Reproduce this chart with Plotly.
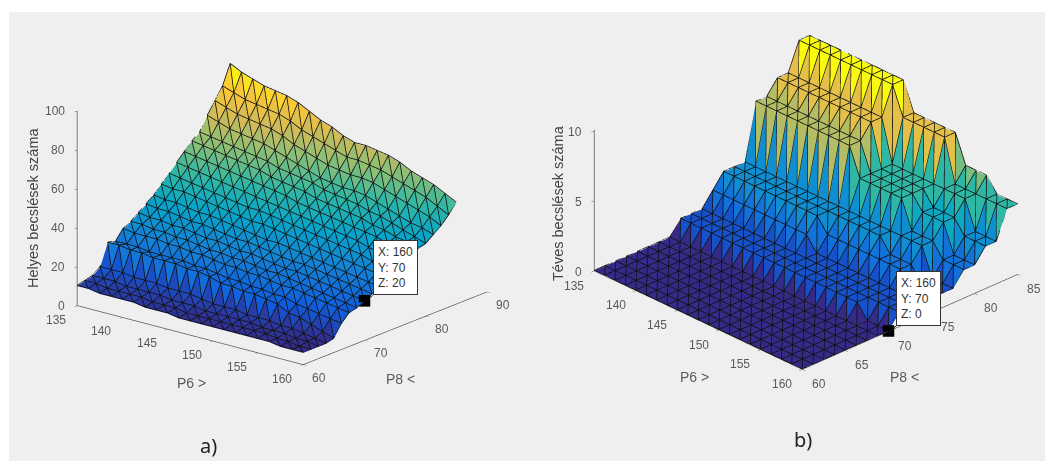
import plotly.graph_objects as go
import numpy as np

P6 = [135, 136.25, 137.5, 138.75, 140, 141.25, 142.5, 143.75, 145, 146.25, 147.5,
      148.75, 150, 151.25, 152.5, 153.75, 155, 156.25, 157.5, 158.75, 160]
P8 = [60, 61.25, 62.5, 63.75, 65, 66.25, 67.5, 68.75, 70, 71.25, 72.5,
      73.75, 75, 76.25, 77.5, 78.75, 80, 81.25, 82.5, 83.75, 85]

HELYES = [
 [10,10,9,9,9,9,8,8,8,7,7,7,7,7,7,7,7,7,6,6,6],
 [11,11,10,10,10,10,9,9,9,8,8,8,8,8,8,8,8,7,7,6,6],
 [12,12,12,11,11,11,11,10,10,10,9,9,9,9,9,8,8,8,7,7,6],
 [15,15,15,14,14,14,13,13,13,12,11,11,11,10,10,10,9,9,8,7,6],
 [26,26,25,25,24,24,24,23,23,22,20,20,19,19,18,17,14,13,11,9,7],
 [25,25,25,24,24,24,24,23,23,22,21,21,20,20,19,19,17,16,15,14,13],
 [30,29,29,29,28,28,27,27,26,25,25,24,24,23,22,22,21,20,19,18,17],
 [32,32,31,31,30,30,29,28,28,27,27,26,25,25,24,23,22,21,20,19,18],
 [35,34,34,33,33,32,31,31,30,29,29,28,27,26,26,25,24,23,22,21,20],
 [38,37,37,36,35,35,34,33,32,32,31,30,29,28,28,27,26,25,24,23,22],
 [41,40,40,39,38,38,37,36,35,34,33,33,32,31,30,29,28,27,26,25,24],
 [45,44,44,43,42,41,40,39,38,38,37,36,35,34,33,32,31,30,29,28,27],
 [49,48,47,46,45,44,43,42,42,41,40,39,38,37,36,35,34,33,31,30,29],
 [53,52,51,50,49,48,47,46,45,44,43,42,41,40,39,38,37,35,34,33,31],
 [57,56,55,54,53,52,51,50,49,48,46,45,44,43,42,41,40,39,37,36,34],
 [61,60,59,58,57,56,55,53,52,51,50,48,47,46,45,44,42,41,39,38,36],
 [64,63,62,61,60,59,58,56,55,54,53,51,50,49,48,46,45,43,41,39,37],
 [71,69,67,66,65,64,62,60,58,56,54,53,52,52,51,49,47,45,43,42,40],
 [77,75,73,72,71,70,68,65,63,61,59,58,57,57,56,54,52,50,48,46,43],
 [83,81,79,78,77,76,74,71,69,67,65,63,63,62,61,59,57,55,53,50,47],
 [93,90,88,86,85,84,82,79,76,74,71,69,69,68,67,65,62,60,58,55,52],
]

TEVES = [
 [0]*21, [0]*21, [0]*21, [0]*21, [0]*21, [0]*21, [0]*21, [0]*21,
 [1,1,1,1,1,1,1,1,1,1,1,1,1,1,1,1,1,1,0,0,0],
 [1,1,1,1,1,1,1,1,1,1,1,1,1,1,1,1,1,1,1,1,1],
 [1,1,1,1,1,1,1,1,1,1,1,1,1,1,1,1,1,1,1,1,1],
 [2,2,2,2,2,2,2,2,2,2,1,1,1,1,1,1,1,1,1,1,1],
 [3,3,3,3,3,3,3,3,3,3,2,2,2,2,2,2,2,2,1,1,1],
 [3,3,3,3,3,3,3,3,3,3,3,3,3,3,3,2,2,2,1,1,1],
 [3,3,3,3,3,3,3,3,3,3,3,3,3,3,3,3,3,3,1,1,1],
 [7,7,7,7,7,7,7,7,7,7,5,5,5,5,5,3,3,3,2,2,2],
 [7,7,7,7,7,7,7,7,7,7,5,5,5,5,5,4,4,4,2,2,2],
 [8,8,8,8,8,8,8,8,8,8,5,5,5,5,5,4,4,4,3,3,3],
 [8,8,8,8,8,8,8,8,8,8,5,5,5,5,5,5,5,5,3,3,3],
 [10,10,10,10,10,10,10,10,10,10,8,8,8,8,8,5,5,5,5,5,5],
 [10,10,10,10,10,10,10,10,10,10,8,8,8,8,8,6,6,6,5,5,5],
]

PARULA = [[0, "#352A87"], [.125, "#0F5CDD"], [.25, "#1481D6"], [.375, "#06A4CA"], [.5, "#2EB7A4"],
          [.625, "#87BF77"], [.75, "#D1BB59"], [.875, "#FEC832"], [1, "#F9FB0E"]]
GREY = "#5a5a5a"
FONT = "Liberation Sans"
X_TICKS = [135, 140, 145, 150, 155, 160]
YA_TICKS = [60, 70, 80, 90]
YB_TICKS = [60, 65, 70, 75, 80, 85]
ZA_TICKS = [0, 20, 40, 60, 80, 100]
ZB_TICKS = [0, 5, 10]


def add_surface(fig, Z, scene, lift):
    Z = np.array(Z, float)
    nj, ni = Z.shape
    X, Y = np.meshgrid(P6, P8)
    idx = lambda j, i: j * ni + i
    I, J, K = [], [], []
    for j in range(nj - 1):
        for i in range(ni - 1):
            I += [idx(j, i), idx(j + 1, i + 1)]
            J += [idx(j, i + 1), idx(j, i + 1)]
            K += [idx(j + 1, i), idx(j + 1, i)]
    zf = Z.ravel()
    cell = np.median(np.c_[zf[I], zf[J], zf[K]], axis=1)
    fig.add_trace(go.Mesh3d(
        x=X.ravel(), y=Y.ravel(), z=zf, i=I, j=J, k=K,
        intensity=cell, intensitymode="cell", colorscale=PARULA,
        cmin=zf.min(), cmax=zf.max(), showscale=False, flatshading=True,
        lighting=dict(ambient=1.0, diffuse=0.0, specular=0, roughness=1, fresnel=0),
        hoverinfo="skip", scene=scene))
    wx, wy, wz = [], [], []
    def seg(pts):
        for (j, i) in pts:
            wx.append(float(P6[i])); wy.append(float(P8[j])); wz.append(float(Z[j, i]) + lift)
        wx.append(None); wy.append(None); wz.append(None)
    for j in range(nj):
        seg([(j, i) for i in range(ni)])
    for i in range(ni):
        seg([(j, i) for j in range(nj)])
    for s in range(1, ni + nj - 2):
        seg([(j, s - j) for j in range(nj) if 0 <= s - j < ni])
    fig.add_trace(go.Scatter3d(x=wx, y=wy, z=wz, mode="lines",
                               line=dict(color="#111111", width=1.6),
                               hoverinfo="skip", showlegend=False, scene=scene))


def axis(vals, rng):
    return dict(range=rng, tickvals=vals, showticklabels=False, title=dict(text=""),
                showgrid=False, zeroline=False, showbackground=False, showspikes=False,
                showline=True, linecolor="#555555", linewidth=1.5, ticks="outside", ticklen=4,
                tickcolor="#555555", autorange=False)


def label(x, y, z, text, dx, dy, anchor="center"):
    return dict(x=x, y=y, z=z, text=str(text), showarrow=False, xshift=dx, yshift=dy, xanchor=anchor,
                font=dict(family=FONT, size=12, color=GREY))


def tip(x, y, z, tz, ax, ay):
    return dict(x=x, y=y, z=z, text=f"X: {x}<br>Y: {y}<br>Z: {tz}", showarrow=True, arrowcolor="#111111",
                arrowwidth=1, arrowhead=0, ax=ax, ay=ay, xanchor="left", yanchor="bottom", align="left",
                bgcolor="white", bordercolor="#333333", borderwidth=1, borderpad=4,
                font=dict(family=FONT, size=12, color="#333333"))


def labels(ytick, ymin, ztick, xs, ys, zs):
    out = [label(v, ymin, 0, v, *xs) for v in X_TICKS]
    out += [label(160, v, 0, v, *ys) for v in ytick]
    out += [label(135, ymin, v, v, *zs, anchor="right") for v in ztick]
    return out


fig = go.Figure()
add_surface(fig, HELYES, "scene", 0.4)
add_surface(fig, TEVES, "scene2", 0.04)
fig.add_trace(go.Scatter3d(x=[160], y=[70], z=[20.5], mode="markers", scene="scene", hoverinfo="skip",
                           marker=dict(color="black", size=6, symbol="square"), showlegend=False))
fig.add_trace(go.Scatter3d(x=[160], y=[70], z=[0.05], mode="markers", scene="scene2", hoverinfo="skip",
                           marker=dict(color="black", size=6, symbol="square"), showlegend=False))

fig.update_layout(
    width=1045, height=462, margin=dict(l=0, r=0, t=0, b=0), paper_bgcolor="white", showlegend=False,
    shapes=[dict(type="rect", xref="paper", yref="paper", x0=9 / 1045, x1=1, y0=0.002, y1=450 / 462,
                 fillcolor="#efefef", line_width=0, layer="below")],
    scene=dict(domain=dict(x=[0, 0.54], y=[0.132, 0.996]), aspectmode="manual",
               aspectratio=dict(x=1.46, y=1.46, z=1.03), bgcolor="rgba(0,0,0,0)",
               camera=dict(projection=dict(type="orthographic"), eye=dict(x=0.78, y=-0.96, z=0.42),
                           up=dict(x=0, y=0, z=1), center=dict(x=0, y=0, z=0)),
               xaxis=axis(X_TICKS, [135, 160]),
               yaxis=axis(YA_TICKS, [60, 90]),
               zaxis=axis(ZA_TICKS, [0, 100]),
               annotations=labels(YA_TICKS, 60, ZA_TICKS, (-21, -14), (16, -13), (-10, 0)) + [tip(160, 70, 20, 20, 8, -6)]),
    scene2=dict(domain=dict(x=[0.5433, 0.9986], y=[0.126, 0.997]), aspectmode="manual",
                aspectratio=dict(x=1.49, y=1.49, z=0.79), bgcolor="rgba(0,0,0,0)",
                camera=dict(projection=dict(type="orthographic"), eye=dict(x=0.84, y=-0.81, z=0.6),
                            up=dict(x=0, y=0, z=1), center=dict(x=0, y=0, z=0)),
                xaxis=axis(X_TICKS, [135, 160]),
                yaxis=axis(YB_TICKS, [60, 85]),
                zaxis=axis(ZB_TICKS, [0, 10.1]),
                annotations=labels(YB_TICKS, 60, ZB_TICKS, (-20, -14), (17, -14), (-10, 0)) + [tip(160, 70, 0, 0, 8, -6)]),
    annotations=[
        dict(text=t, x=x / 1045, y=1 - y / 462, xref="paper", yref="paper", showarrow=False, textangle=a,
             font=dict(family=f, size=s, color=c), xanchor="center", yanchor="middle")
        for t, x, y, a, f, s, c in [
            ("P6 &gt;", 191, 383, 0, FONT, 14, GREY), ("P8 &lt;", 400, 379, 0, FONT, 14, GREY),
            ("Helyes becslések száma", 33, 208, -90, FONT, 14.5, "#444444"),
            ("a)", 208, 445, 0, "Noto Sans", 20, "#222222"),
            ("P6 &gt;", 694, 377, 0, FONT, 14, GREY), ("P8 &lt;", 904, 377, 0, FONT, 14, GREY),
            ("Téves becslések száma", 558, 203, -90, FONT, 14.5, "#444444"),
            ("b)", 803, 439, 0, "Noto Sans", 20, "#222222"),
        ]
    ],
)
fig.write_html("out.html", post_script="document.body.style.margin='0';", config={"displayModeBar": False})
